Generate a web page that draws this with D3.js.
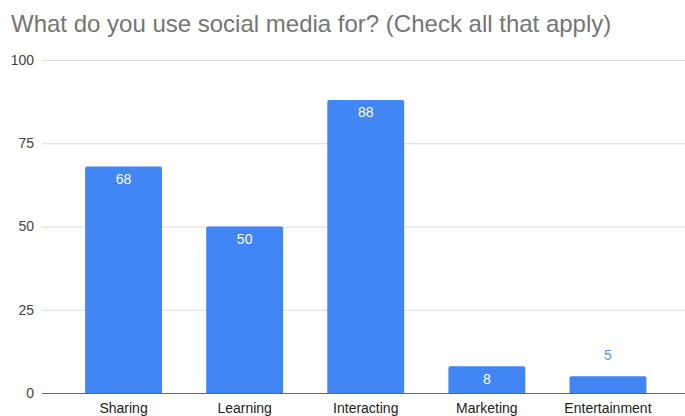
<!DOCTYPE html>
<html>
<head>
<meta charset="utf-8">
<script src="https://cdn.jsdelivr.net/npm/d3@7"></script>
<style>
  html, body { margin: 0; padding: 0; background: #fff; }
  svg { display: block; }
</style>
</head>
<body>
<div id="chart"></div>
<script>
// Survey responses: what people use social media for
const categories = ["Sharing", "Learning", "Interacting", "Marketing", "Entertainment"];
const counts = [68, 50, 88, 8, 5];
const yTicks = [0, 25, 50, 75, 100];
const titleText = "What do you use social media for? (Check all that apply)";

const width = 685, height = 416;
const barColor = "#4285F4";
const font = "Arial, 'Liberation Sans', sans-serif";

const svg = d3.select("#chart").append("svg")
  .attr("width", width).attr("height", height);

svg.append("text")
  .attr("x", 11).attr("y", 32)
  .attr("fill", "#757575")
  .attr("font-family", font)
  .attr("font-size", 24)
  .text(titleText);

const x = d3.scaleBand()
  .domain(categories)
  .range([63, 668.5])
  .paddingInner(0.365)
  .paddingOuter(0.1825);

const y = d3.scaleLinear().domain([0, 100]).range([393, 60]);

// horizontal gridlines with tick labels
const yAxis = d3.axisLeft(y).tickValues(yTicks).tickSize(-(685 - 42)).tickPadding(8);
const gy = svg.append("g").attr("transform", "translate(42,0)").call(yAxis);
gy.select(".domain").remove();
gy.selectAll(".tick line").attr("stroke", "#d9d9d9").attr("stroke-width", 1);
gy.selectAll(".tick text")
  .attr("fill", "#444").attr("font-family", font).attr("font-size", 14);

// bars with slightly rounded tops
const r = 2;
svg.append("g").selectAll("path")
  .data(categories)
  .join("path")
  .attr("fill", barColor)
  .attr("d", (c, i) => {
    const x0 = x(c), w = x.bandwidth(), y0 = y(counts[i]), y1 = y(0);
    return `M${x0},${y1}V${y0 + r}Q${x0},${y0} ${x0 + r},${y0}H${x0 + w - r}Q${x0 + w},${y0} ${x0 + w},${y0 + r}V${y1}Z`;
  });

// baseline
svg.append("line")
  .attr("x1", 42).attr("x2", 685)
  .attr("y1", y(0) + 0.5).attr("y2", y(0) + 0.5)
  .attr("stroke", "#666").attr("stroke-width", 1);

// value labels: inside the bar when it fits, above it otherwise
svg.append("g").selectAll("text")
  .data(categories)
  .join("text")
  .attr("x", c => x(c) + x.bandwidth() / 2)
  .attr("y", (c, i) => {
    const h = y(0) - y(counts[i]);
    return h >= 20 ? y(counts[i]) + 17.5 : y(counts[i]) - 16;
  })
  .attr("text-anchor", "middle")
  .attr("font-family", font)
  .attr("font-size", 14)
  .attr("fill", (c, i) => (y(0) - y(counts[i]) >= 20 ? "#fff" : "#5a95f5"))
  .text((c, i) => counts[i]);

// category labels
const xAxis = d3.axisBottom(x).tickSize(0).tickPadding(10);
const gx = svg.append("g").attr("transform", `translate(0,${y(0)})`).call(xAxis);
gx.select(".domain").remove();
gx.selectAll(".tick text")
  .attr("fill", "#222").attr("font-family", font).attr("font-size", 14);
</script>
</body>
</html>
